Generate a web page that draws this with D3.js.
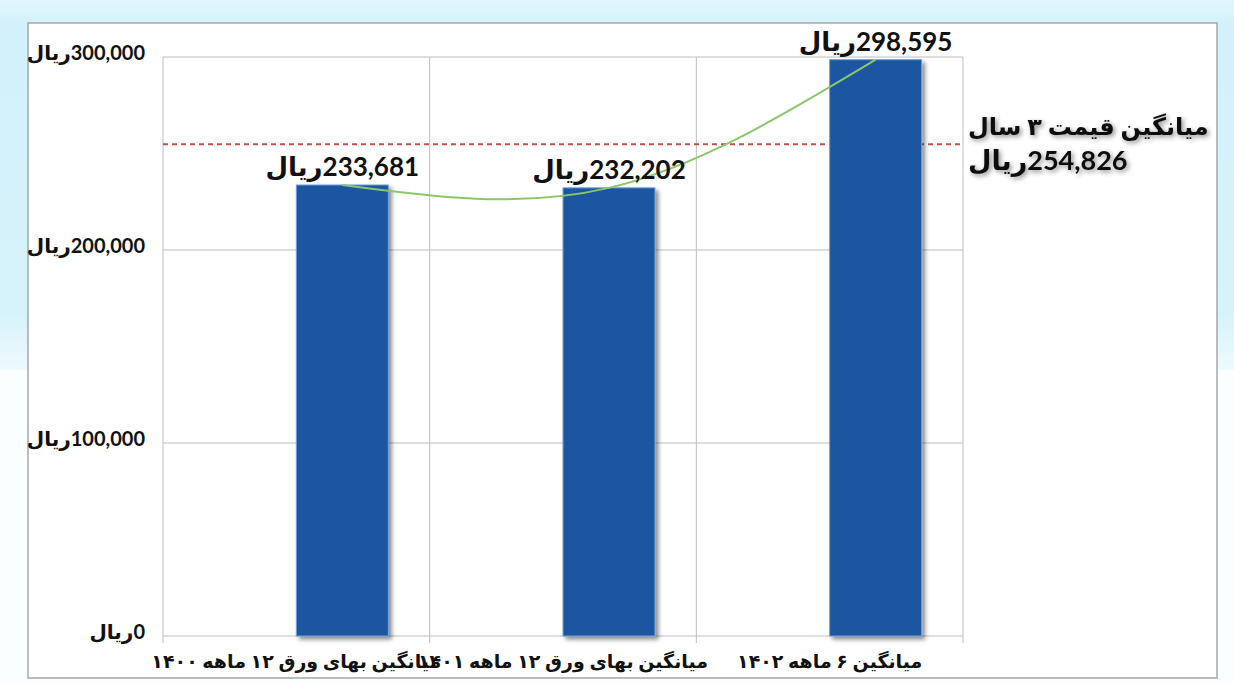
<!DOCTYPE html>
<html>
<head>
  <meta charset="utf-8">
  <title>میانگین بهای ورق</title>
  <style>
    body { margin: 0; background: #fff; }
    text { font-family: Lato, "DejaVu Sans", sans-serif; font-weight: bold; fill: #111; }
    .grid { stroke: #bdbdbd; stroke-width: 1; }
  </style>
</head>
<body>
  <svg id="chart"></svg>

  <script src="https://d3js.org/d3.v7.min.js"></script>
  <script>
    // داده‌ها
    const categories = [
      "میانگین بهای ورق ۱۲ ماهه ۱۴۰۰",
      "میانگین بهای ورق ۱۲ ماهه ۱۴۰۱",
      "میانگین ۶ ماهه ۱۴۰۲"
    ];
    const values = [233681, 232202, 298595];
    const average = 254826;
    const averageLabel = "میانگین قیمت ۳ سال";
    const yTicks = [0, 100000, 200000, 300000];
    const unit = "ریال";

    const W = 1234, H = 682;
    const plot = { left: 163, right: 963, top: 57, bottom: 636 };

    const svg = d3.select("#chart").attr("width", W).attr("height", H);
    const defs = svg.append("defs");

    // سایه ستون‌ها
    const sh = defs.append("filter").attr("id", "barShadow")
      .attr("x", "-20%").attr("y", "-10%").attr("width", "150%").attr("height", "130%");
    sh.append("feDropShadow").attr("dx", 3).attr("dy", 3).attr("stdDeviation", 2)
      .attr("flood-color", "#000").attr("flood-opacity", 0.45);

    const ts = defs.append("filter").attr("id", "textShadow")
      .attr("x", "-10%").attr("y", "-30%").attr("width", "130%").attr("height", "170%");
    ts.append("feDropShadow").attr("dx", 2).attr("dy", 2).attr("stdDeviation", 2.5)
      .attr("flood-color", "#000").attr("flood-opacity", 0.45);

    // پس‌زمینه
    const bg = defs.append("linearGradient").attr("id", "bgGrad")
      .attr("x1", 0).attr("y1", 0).attr("x2", 0).attr("y2", 1);
    bg.append("stop").attr("offset", "0%").attr("stop-color", "#e2f6fc");
    bg.append("stop").attr("offset", "6%").attr("stop-color", "#d3f1fb");
    bg.append("stop").attr("offset", "85%").attr("stop-color", "#d6f3fb");
    bg.append("stop").attr("offset", "100%").attr("stop-color", "#eefafd");
    svg.append("rect").attr("width", W).attr("height", H).attr("fill", "#fbfefe");
    svg.append("rect").attr("width", W).attr("height", 370).attr("fill", "url(#bgGrad)");

    // کادر نمودار
    svg.append("rect")
      .attr("x", 28).attr("y", 23).attr("width", 1189).attr("height", 655)
      .attr("fill", "#fff").attr("stroke", "#a6a6a6").attr("stroke-width", 1.5);

    const x = d3.scaleBand().domain(categories).range([plot.left, plot.right]);
    const sub = d3.scaleBand().domain(["empty", "value"]).range([0, x.bandwidth()]).paddingOuter(0.45);
    const y = d3.scaleLinear().domain([0, 300000]).range([plot.bottom, plot.top]);
    const fmt = d3.format(",");

    // خطوط شبکه
    svg.append("g").selectAll("line").data(yTicks).join("line")
      .attr("class", "grid")
      .attr("x1", plot.left).attr("x2", plot.right)
      .attr("y1", d => y(d)).attr("y2", d => y(d));

    const bounds = categories.map(c => x(c)).concat([plot.right]);
    svg.append("g").selectAll("line").data(bounds).join("line")
      .attr("class", "grid")
      .attr("x1", d => d).attr("x2", d => d)
      .attr("y1", plot.top).attr("y2", plot.bottom + 7);

    // برچسب‌های محور عمودی
    svg.append("g").selectAll("text").data(yTicks).join("text")
      .attr("direction", "rtl")
      .attr("x", plot.left - 18).attr("y", d => y(d) - 2)
      .attr("text-anchor", "start")
      .attr("dominant-baseline", "middle")
      .attr("font-size", 20)
      .text(d => fmt(d) + unit);

    // خط میانگین
    svg.append("line")
      .attr("x1", plot.left).attr("x2", plot.right)
      .attr("y1", y(average)).attr("y2", y(average))
      .attr("stroke", "#c0504d").attr("stroke-width", 2)
      .attr("stroke-dasharray", "5,4");

    // ستون‌ها
    const bx = c => x(c) + sub("value");
    svg.append("g").selectAll("rect").data(values).join("rect")
      .attr("x", (d, i) => bx(categories[i]))
      .attr("y", d => y(d))
      .attr("width", sub.bandwidth())
      .attr("height", d => plot.bottom - y(d))
      .attr("fill", "#1a56a0")
      .attr("stroke", "#6f9fd8").attr("stroke-width", 1)
      .attr("filter", "url(#barShadow)");

    // خط روند
    const pts = values.map((v, i) => [bx(categories[i]) + sub.bandwidth() / 2, y(v)]);
    svg.append("path")
      .attr("d", d3.line().curve(d3.curveNatural)(pts))
      .attr("fill", "none")
      .attr("stroke", "#8cc66c").attr("stroke-width", 2);

    // برچسب مقادیر
    svg.append("g").selectAll("text").data(values).join("text")
      .attr("direction", "rtl")
      .attr("x", (d, i) => bx(categories[i]) + sub.bandwidth() / 2)
      .attr("y", d => y(d) - 9)
      .attr("text-anchor", "middle")
      .attr("font-size", 26)
      .text(d => fmt(d) + unit);

    // برچسب‌های محور افقی
    svg.append("g").selectAll("text").data(categories).join("text")
      .attr("direction", "rtl")
      .attr("x", d => x(d) + x.bandwidth() / 2)
      .attr("y", plot.bottom + 32)
      .attr("text-anchor", "middle")
      .attr("font-size", 19)
      .text(d => d);

    // توضیح میانگین
    const ann = svg.append("g").attr("filter", "url(#textShadow)");
    ann.append("text")
      .attr("direction", "rtl")
      .attr("x", plot.right + 5).attr("y", y(average) - 9)
      .attr("text-anchor", "end")
      .attr("font-size", 24)
      .text(averageLabel);
    ann.append("text")
      .attr("direction", "rtl")
      .attr("x", plot.right + 5).attr("y", y(average) + 26)
      .attr("text-anchor", "end")
      .attr("font-size", 27)
      .text(fmt(average) + unit);
  </script>
</body>
</html>
